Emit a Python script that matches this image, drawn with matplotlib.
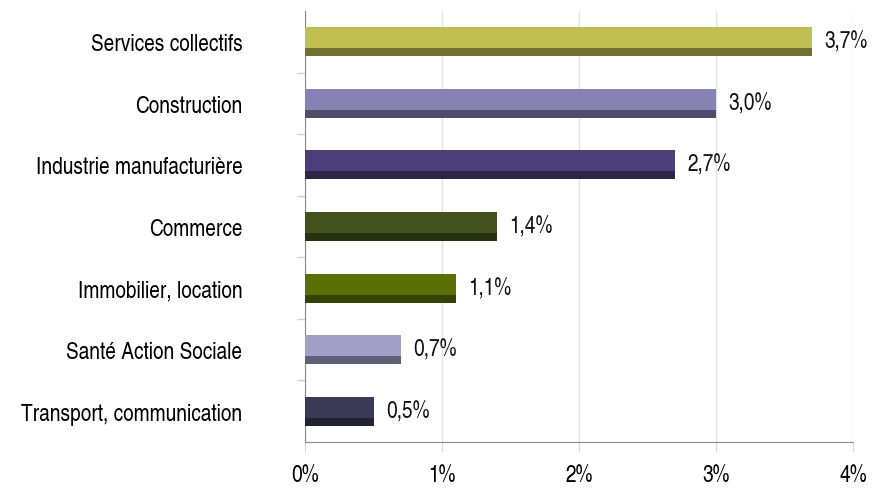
import matplotlib
matplotlib.use("Agg")
import matplotlib.pyplot as plt
from matplotlib.ticker import FixedLocator

plt.rcParams['font.family'] = ['TeX Gyre Heros Cn', 'Roboto Condensed', 'DejaVu Sans']

categories = ["Services collectifs", "Construction", "Industrie manufacturière",
              "Commerce", "Immobilier, location", "Santé Action Sociale",
              "Transport, communication"]
values = [3.7, 3.0, 2.7, 1.4, 1.1, 0.7, 0.5]
value_labels = ["3,7%", "3,0%", "2,7%", "1,4%", "1,1%", "0,7%", "0,5%"]
top_colors = ["#C0BF52", "#8682B4", "#4A3F7A", "#43521C", "#5A7006", "#A19EC8", "#3A3A55"]
side_colors = ["#727030", "#504C6C", "#2C2548", "#28310F", "#354204", "#605E78", "#222233"]
x_ticks = [0, 1, 2, 3, 4]
x_ticklabels = ["0%", "1%", "2%", "3%", "4%"]

fig = plt.figure(figsize=(8.76, 4.89), dpi=100)
ax = fig.add_axes([305/876, 1-443/489, 548/876, 431/489])

ypos = list(range(len(categories)))
h = 0.47
d = 0.13
ax.barh(ypos, values, height=h, color=top_colors, zorder=3)
ax.barh([y + h/2 - d/2 for y in ypos], values, height=d, color=side_colors, zorder=4)

fs = 16.8
for y, v, lab in zip(ypos, values, value_labels):
    ax.text(v + 0.09, y, lab, va='center', ha='left', fontsize=fs, color='#111111')

ax.set_xlim(0, 4)
ax.set_ylim(len(categories) - 0.5, -0.5)
ax.set_xticks(x_ticks)
ax.set_xticklabels(x_ticklabels, fontsize=fs)
ax.set_yticks(ypos)
ax.set_yticklabels(categories, fontsize=fs)
ax.yaxis.set_minor_locator(FixedLocator([y + 0.5 for y in ypos[:-1]]))
ax.tick_params(axis='y', which='major', length=0, pad=45)
ax.tick_params(axis='y', which='minor', length=6, color='#d0d0d0', width=1)
ax.tick_params(axis='x', length=7, color='#d8d8d8', pad=9)
ax.xaxis.grid(True, color='#e2e2e2', linewidth=1, zorder=0)
ax.set_axisbelow(True)
for s in ['top', 'right']:
    ax.spines[s].set_visible(False)
ax.spines['left'].set_color('#8a8a8a')
ax.spines['bottom'].set_color('#8a8a8a')

fig.savefig("out.png", dpi=100)
